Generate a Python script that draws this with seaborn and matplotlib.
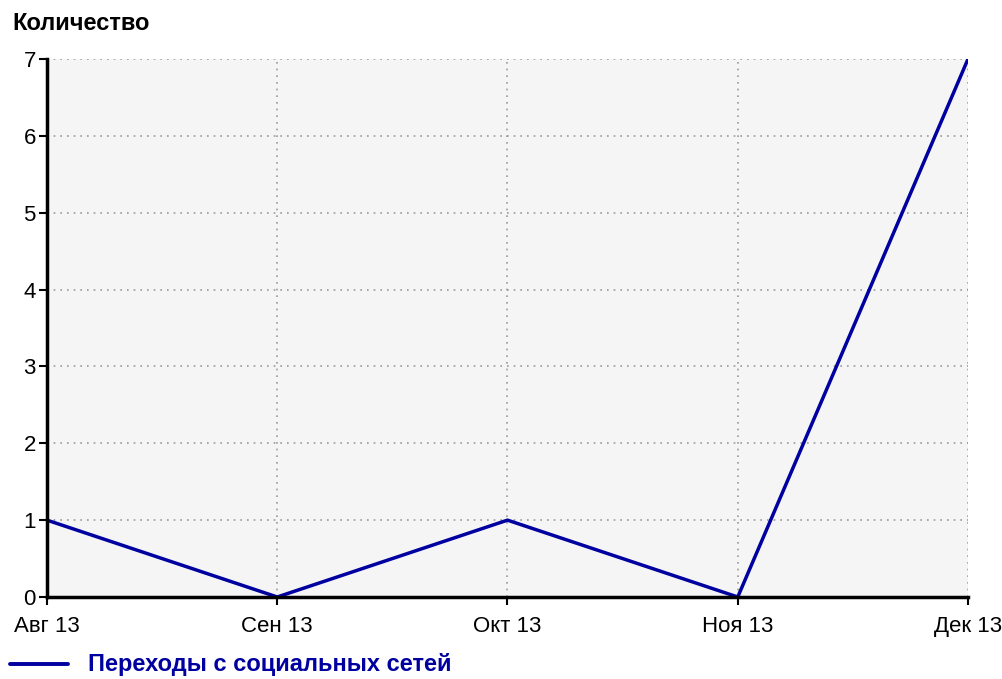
import matplotlib
matplotlib.use("Agg")
import matplotlib.pyplot as plt
import seaborn as sns
import pandas as pd

months = ["Авг 13", "Сен 13", "Окт 13", "Ноя 13", "Дек 13"]
visits = [1, 0, 1, 0, 7]
series_name = "Переходы с социальных сетей"
y_title = "Количество"

sns.set_theme(style="white")
plt.rcParams["font.family"] = ["Liberation Sans", "DejaVu Sans"]

df = pd.DataFrame({"pos": range(len(months)), "value": visits})

fig = plt.figure(figsize=(10.03, 6.79), dpi=100)
ax = fig.add_axes([47 / 1003, 1 - 597 / 679, (968 - 47) / 1003, (597 - 59) / 679])
ax.set_facecolor("#f5f5f5")

sns.lineplot(data=df, x="pos", y="value", ax=ax, color="#0000a0", linewidth=2.5)

ax.set_xlim(0, len(months) - 1)
ax.set_ylim(0, 7)
ax.set_xticks(range(len(months)))
ax.set_xticklabels(months)
ax.set_yticks(range(0, 8))
ax.set_xlabel("")
ax.set_ylabel("")

ax.grid(True, color="#999999", linestyle=(0, (1, 3)), linewidth=1.2)
for side in ["top", "right"]:
    ax.spines[side].set_visible(False)
for side in ["left", "bottom"]:
    ax.spines[side].set_color("black")
    ax.spines[side].set_linewidth(2.5)

ax.tick_params(axis="both", colors="black", labelsize=16, length=6, width=1.5,
               direction="out", left=True, bottom=True)
ax.tick_params(axis="y", pad=2)
ax.tick_params(axis="x", pad=8)

fig.text(12 / 1003, 1 - 24 / 679, y_title, fontsize=17, fontweight="bold",
         color="black", va="center", ha="left")

# legend entry below the axes
fig.lines.append(plt.Line2D([10 / 1003, 68 / 1003], [1 - 664 / 679, 1 - 664 / 679],
                            transform=fig.transFigure, color="#0000a0", linewidth=2.8))
fig.text(88 / 1003, 1 - 664 / 679, series_name, fontsize=17, fontweight="bold",
         color="#0000a0", va="center", ha="left")

fig.savefig("out.png", dpi=100)
